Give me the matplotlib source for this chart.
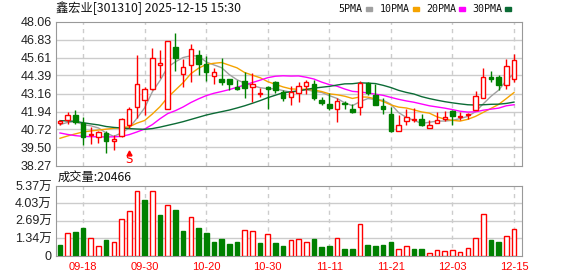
import matplotlib
matplotlib.use("Agg")
import matplotlib.pyplot as plt
import numpy as np

# ---------------- data ----------------
dates = ["09-15", "09-16", "09-17", "09-18", "09-19", "09-22", "09-23", "09-24", "09-25", "09-26",
         "09-29", "09-30", "10-09", "10-10", "10-13", "10-14", "10-15", "10-16", "10-17", "10-20",
         "10-21", "10-22", "10-23", "10-24", "10-27", "10-28", "10-29", "10-30", "10-31", "11-03",
         "11-04", "11-05", "11-06", "11-07", "11-10", "11-11", "11-12", "11-13", "11-14", "11-17",
         "11-18", "11-19", "11-20", "11-21", "11-24", "11-25", "11-26", "11-27", "11-28", "12-01",
         "12-02", "12-03", "12-04", "12-05", "12-08", "12-09", "12-10", "12-11", "12-12", "12-15"]

opens = [41.14, 41.34, 41.68, 41.14, 40.32, 40.21, 40.48, 39.96, 40.25, 41.05,
         42.22, 42.75, 43.49, 45.08, 42.11, 46.33, 44.49, 45.13, 45.80, 45.17,
         44.35, 44.13, 44.13, 43.61, 43.99, 43.58, 43.13, 43.61, 43.92, 43.27,
         42.90, 43.20, 43.70, 43.81, 42.72, 42.45, 42.13, 42.52, 42.13, 42.22,
         43.88, 43.09, 42.34, 41.77, 40.59, 41.27, 41.34, 41.43, 40.80, 41.14,
         41.45, 41.95, 41.57, 41.68, 42.02, 42.86, 44.29, 44.29, 43.77, 44.15]
highs = [41.38, 41.88, 42.04, 41.57, 40.89, 40.64, 40.64, 40.37, 41.50, 42.22,
         45.76, 43.58, 46.26, 46.10, 46.71, 47.30, 45.53, 46.53, 46.15, 45.70,
         44.88, 45.56, 44.13, 44.11, 44.60, 44.56, 43.54, 43.70, 43.99, 43.42,
         43.65, 43.95, 44.11, 44.11, 42.90, 43.20, 42.86, 42.63, 42.45, 44.04,
         43.92, 43.81, 42.86, 42.22, 41.73, 42.13, 42.18, 41.77, 41.39, 41.88,
         41.98, 42.07, 41.88, 41.84, 43.36, 44.90, 44.72, 44.40, 45.51, 45.85]
lows = [41.00, 41.09, 41.09, 39.69, 39.73, 39.80, 39.14, 39.30, 40.18, 40.82,
        41.50, 41.68, 43.40, 44.22, 42.11, 44.67, 43.63, 43.92, 44.40, 44.00,
        43.80, 43.74, 43.42, 43.42, 42.86, 42.56, 42.90, 42.11, 43.20, 42.63,
        42.36, 42.56, 43.13, 42.75, 42.36, 42.07, 41.21, 42.13, 41.84, 41.73,
        43.09, 42.36, 41.79, 40.55, 40.59, 41.05, 41.23, 40.93, 40.80, 41.14,
        41.27, 41.05, 41.39, 41.43, 42.02, 42.86, 43.92, 43.42, 43.49, 43.92]
closes = [41.27, 41.68, 41.23, 40.23, 40.43, 40.55, 39.96, 40.09, 41.43, 42.13,
          43.81, 43.47, 45.58, 45.24, 46.71, 45.58, 44.94, 46.17, 45.20, 44.65,
          44.61, 43.97, 43.80, 43.45, 43.52, 43.81, 43.22, 43.47, 43.42, 42.86,
          43.27, 43.65, 43.92, 42.86, 42.50, 42.18, 42.68, 42.45, 41.88, 43.88,
          43.20, 42.41, 42.13, 40.59, 41.00, 41.57, 41.43, 41.05, 41.02, 41.39,
          41.57, 41.66, 41.66, 41.77, 42.97, 44.26, 44.17, 43.77, 45.01, 45.42]

ma5 = [41.05, 41.20, 41.25, 41.05, 40.97, 40.82, 40.48, 40.25, 40.49, 40.83,
       41.48, 42.19, 43.28, 44.05, 44.96, 45.32, 45.61, 45.73, 45.72, 45.31,
       45.11, 44.92, 44.45, 44.10, 43.87, 43.71, 43.56, 43.49, 43.49, 43.36,
       43.25, 43.33, 43.42, 43.31, 43.24, 43.02, 42.83, 42.53, 42.34, 42.61,
       42.82, 42.76, 42.70, 42.44, 41.87, 41.54, 41.34, 41.13, 41.21, 41.29,
       41.29, 41.34, 41.46, 41.61, 41.93, 42.46, 42.97, 43.39, 44.04, 44.53]
ma10 = [40.12, 40.28, 40.42, 40.55, 40.62, 40.68, 40.74, 40.80, 40.85, 40.90,
        41.15, 41.33, 41.77, 42.27, 42.90, 43.40, 43.90, 44.51, 44.88, 45.14,
        45.22, 45.27, 45.09, 44.91, 44.59, 44.41, 44.24, 43.97, 43.79, 43.61,
        43.48, 43.45, 43.46, 43.40, 43.30, 43.14, 43.08, 42.98, 42.83, 42.93,
        42.92, 42.80, 42.62, 42.39, 42.24, 42.18, 42.05, 41.91, 41.83, 41.58,
        41.42, 41.34, 41.29, 41.41, 41.61, 41.88, 42.15, 42.42, 42.82, 43.23]
ma20 = [40.48, 40.38, 40.30, 40.25, 40.23, 40.22, 40.21, 40.22, 40.25, 40.37,
        40.55, 40.75, 41.05, 41.45, 41.80, 42.00, 42.25, 42.55, 42.80, 43.02,
        43.18, 43.30, 43.43, 43.59, 43.74, 43.91, 44.07, 44.24, 44.34, 44.37,
        44.35, 44.36, 44.27, 44.15, 43.94, 43.77, 43.66, 43.47, 43.31, 43.27,
        43.20, 43.12, 43.04, 42.90, 42.77, 42.66, 42.57, 42.45, 42.33, 42.25,
        42.17, 42.07, 41.96, 41.90, 41.92, 42.03, 42.10, 42.17, 42.33, 42.40]
ma30 = [41.32, 41.30, 41.27, 41.18, 41.10, 41.03, 40.92, 40.86, 40.82, 40.78,
        40.75, 40.73, 40.78, 40.88, 41.00, 41.12, 41.25, 41.40, 41.55, 41.70,
        41.82, 41.93, 42.04, 42.18, 42.33, 42.50, 42.68, 42.88, 43.05, 43.22,
        43.28, 43.35, 43.44, 43.53, 43.59, 43.65, 43.74, 43.82, 43.83, 43.89,
        43.87, 43.84, 43.72, 43.57, 43.38, 43.24, 43.13, 42.95, 42.82, 42.71,
        42.61, 42.53, 42.46, 42.40, 42.38, 42.40, 42.43, 42.44, 42.49, 42.58]

volume_wan = [0.83, 1.77, 1.85, 2.16, 1.36, 0.73, 1.23, 1.07, 2.84, 3.47,
              4.95, 4.28, 4.95, 3.10, 3.94, 3.49, 1.93, 3.00, 2.09, 1.72,
              1.07, 1.30, 0.91, 1.07, 1.98, 1.90, 0.99, 1.69, 0.99, 0.76,
              1.20, 1.28, 1.07, 1.30, 0.68, 0.76, 1.36, 0.52, 0.52, 2.45,
              0.83, 0.76, 0.83, 1.07, 0.50, 0.70, 0.52, 0.52, 0.18, 0.42,
              0.34, 0.42, 0.26, 0.57, 1.36, 3.23, 1.20, 1.07, 1.51, 2.0466]
# 1 = red (close above previous close), 0 = green
vol_up = [0, 1, 0, 0, 1, 1, 0, 1, 1, 1, 1, 0, 1, 0, 1, 0, 0, 1, 0, 0,
          0, 0, 0, 0, 1, 1, 0, 1, 0, 0, 1, 1, 1, 0, 0, 0, 1, 0, 0, 1,
          0, 0, 0, 0, 1, 1, 0, 0, 1, 1, 1, 1, 1, 1, 1, 1, 0, 0, 1, 1]

price_ticks = [38.27, 39.50, 40.72, 41.94, 43.16, 44.39, 45.61, 46.83, 48.06]
vol_ticks = [0, 13425, 26850, 40275, 53700]
vol_tick_labels = ["0", "1.34万", "2.69万", "4.03万", "5.37万"]
date_ticks = [3, 11, 19, 27, 35, 43, 51, 59]
signal_idx = 9

title = "鑫宏业[301310] 2025-12-15 15:30"
last_volume = 20466
ma_names = ["5PMA", "10PMA", "20PMA", "30PMA"]

RED = "#ff0000"
GREEN = "#008000"
GRID = "#cccccc"
FRAME = "#999999"
MA_COLORS = ["#a0a0a0", "#f5a300", "#ff00ff", "#0b6b35"]
NUM_FONT = ["Liberation Sans", "Noto Sans CJK SC"]
CJK_FONT = ["Noto Sans CJK SC", "DejaVu Sans"]

W, H = 578, 276
fig = plt.figure(figsize=(W / 100, H / 100), dpi=100)


def px_axes(left, top, right, bottom):
    return fig.add_axes([left / W, 1 - bottom / H, (right - left) / W, (bottom - top) / H])


x = np.arange(len(closes))
o, h, l, c = map(np.array, (opens, highs, lows, closes))
up = c >= o

# ---------------- price panel ----------------
ax = px_axes(56, 21.5, 522, 165.5)
ax.set_xlim(-0.52, 60.04)
ax.set_ylim(price_ticks[0], price_ticks[-1])
for yv in price_ticks[1:-1]:
    ax.axhline(yv, color=GRID, lw=1, zorder=0)
for xv in date_ticks:
    ax.axvline(xv, color=GRID, lw=1, ls=(0, (3, 3)), zorder=0)

for ma, col in zip((ma5, ma10, ma20, ma30), MA_COLORS):
    ax.plot(x, ma, color=col, lw=1, zorder=2)

colors = np.where(up, RED, GREEN)
ax.vlines(x, l, h, colors=colors, lw=1, zorder=3)
body_lo = np.minimum(o, c)
body_h = np.maximum(np.abs(c - o), 0.03)
ax.bar(x[up], body_h[up], bottom=body_lo[up], width=0.58, facecolor="white",
       edgecolor=RED, lw=1, zorder=4)
ax.bar(x[~up], body_h[~up], bottom=body_lo[~up], width=0.58, facecolor=GREEN,
       edgecolor=GREEN, lw=1, zorder=4)

ax.text(signal_idx, 39.1, "S", color=RED, ha="center", va="top", fontsize=8.5,
        family="DejaVu Sans")
ax.plot([signal_idx], [39.12], marker="^", ms=3.5, color=RED, clip_on=False)

ax.set_yticks(price_ticks)
ax.set_yticklabels([f"{v:.2f}" for v in price_ticks], family=NUM_FONT, fontsize=9,
                   color="#222222")
ax.set_xticks([])
ax.tick_params(axis="y", length=0, pad=3)
for s in ax.spines.values():
    s.set_color(FRAME)

# ---------------- volume panel ----------------
vx = px_axes(56, 186, 522, 255.5)
vx.set_xlim(-0.52, 60.04)
vx.set_ylim(vol_ticks[0], vol_ticks[-1])
for yv in vol_ticks[1:-1]:
    vx.axhline(yv, color=GRID, lw=1, zorder=0)
for xv in date_ticks:
    vx.axvline(xv, color=GRID, lw=1, ls=(0, (3, 3)), zorder=0)
vol = np.array(volume_wan) * 10000
vu = np.array(vol_up, dtype=bool)
vx.bar(x[vu], vol[vu], width=0.6, facecolor="white", edgecolor=RED, lw=1, zorder=3)
vx.bar(x[~vu], vol[~vu], width=0.6, facecolor=GREEN, edgecolor=GREEN, lw=1, zorder=3)
vx.set_yticks(vol_ticks)
vx.set_yticklabels(vol_tick_labels, family=NUM_FONT, fontsize=9, color="#222222")
vx.set_xticks(date_ticks)
vx.set_xticklabels([dates[i] for i in date_ticks], family=NUM_FONT, fontsize=8, color=RED)
vx.tick_params(length=0)
vx.tick_params(axis="y", pad=3)
vx.tick_params(axis="x", pad=5)
for s in vx.spines.values():
    s.set_color(FRAME)

# ---------------- header texts ----------------
fig.text(56 / W, 1 - 8.5 / H, title, family=CJK_FONT, fontsize=8.8, va="center",
         ha="left", color="#111111")
label_x = [338, 380, 426, 472]
swatch_x = [366, 413, 459, 505]
for name, col, lx, sx in zip(ma_names, MA_COLORS, label_x, swatch_x):
    fig.text(lx / W, 1 - 9 / H, name, family=["DejaVu Sans Mono"], fontsize=7.2,
             va="center", ha="left", color="#111111")
    fig.patches.append(plt.Rectangle((sx / W, 1 - 10.5 / H), 6 / W, 3 / H, color=col,
                                     transform=fig.transFigure, figure=fig))
fig.text(58 / W, 1 - 177.5 / H, f"成交量:{last_volume}", family=CJK_FONT,
         fontsize=8.8, va="center", ha="left", color="#111111")

fig.savefig("out.png", dpi=100)
